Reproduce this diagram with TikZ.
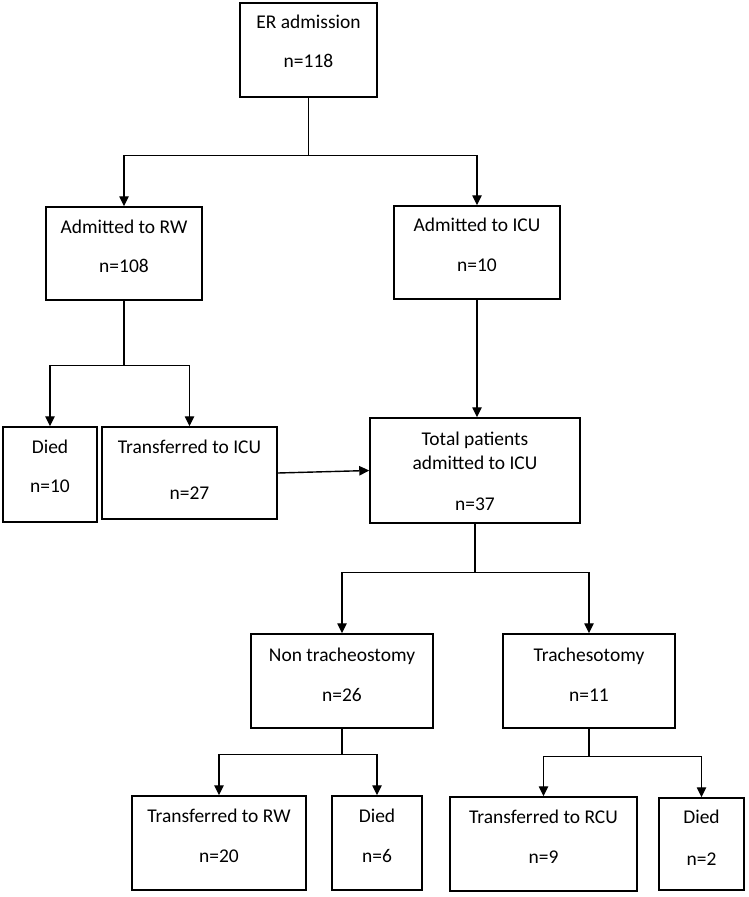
\documentclass[tikz,border=0pt]{standalone}
\usepackage{fontspec}
\setmainfont{Carlito}
\usetikzlibrary{arrows.meta,fit}

\begin{document}
\begin{tikzpicture}[x=0.75pt,y=-0.75pt,
          every node/.style={font=\fontsize{14.6}{17}\selectfont},
          box/.style={rectangle,draw=black,line width=1.1pt,inner sep=0pt},
          txt/.style={anchor=base,inner sep=0pt},
          link/.style={line width=1.05pt},
          arr/.style={link,-{Triangle[length=7.5pt,width=7pt]}}]
        \useasboundingbox (0,0) rectangle (749,897);

        % boxes
        \node[box,fit={(240,3)(377,97)}] (er) {};
        \node[box,fit={(46,207)(202,300)}] (rw) {};
        \node[box,fit={(394,206)(560,299)}] (icu) {};
        \node[box,fit={(3,427)(97,522)}] (died) {};
        \node[box,fit={(102,427)(277,519)}] (toicu) {};
        \node[box,fit={(370,418)(580,523)}] (total) {};
        \node[box,fit={(251,634)(433,728)}] (nontrach) {};
        \node[box,fit={(503,634)(675,728)}] (trach) {};
        \node[box,fit={(132,796)(306,890)}] (torw) {};
        \node[box,fit={(332,796)(422,890)}] (diedA) {};
        \node[box,fit={(450,797)(637,891)}] (torcu) {};
        \node[box,fit={(659,798)(744,890)}] (diedB) {};

        % texts
        \node[txt] (erT) at (308.5,28) {ER admission};
        \node[txt] (erN) at (308.5,67) {n=118};
        \node[txt] (rwT) at (124,233) {Admitted to RW};
        \node[txt] (rwN) at (124,272) {n=108};
        \node[txt] (icuT) at (477,231) {Admitted to ICU};
        \node[txt] (icuN) at (477,271) {n=10};
        \node[txt] (diedT) at (50,453) {Died};
        \node[txt] (diedN) at (50,492) {n=10};
        \node[txt] (toicuT) at (189.5,453) {Transferred to ICU};
        \node[txt] (toicuN) at (189.5,499) {n=27};
        \node[txt] (totalT) at (475,445) {Total patients};
        \node[txt] (totalU) at (475,469) {admitted to ICU};
        \node[txt] (totalN) at (475,510) {n=37};
        \node[txt] (nontrachT) at (342,661) {Non tracheostomy};
        \node[txt] (nontrachN) at (342,701) {n=26};
        \node[txt] (trachT) at (589,661) {Trachesotomy};
        \node[txt] (trachN) at (589,701) {n=11};
        \node[txt] (torwT) at (219,822) {Transferred to RW};
        \node[txt] (torwN) at (219,862) {n=20};
        \node[txt] (diedAT) at (377,822) {Died};
        \node[txt] (diedAN) at (377,862) {n=6};
        \node[txt] (torcuT) at (543.5,823) {Transferred to RCU};
        \node[txt] (torcuN) at (543.5,863) {n=9};
        \node[txt] (diedBT) at (701.5,823) {Died};
        \node[txt] (diedBN) at (701.5,865) {n=2};

        % connectors
        \draw[arr] (er.south) -- ++(0,58) -| (rw.north);
        \draw[arr] (er.south) -- ++(0,58) -| (icu.north);
        \draw[arr] (rw.south) -- ++(0,65) -| (died.north);
        \draw[arr] (rw.south) -- ++(0,65) -| (toicu.north);
        \draw[arr] (icu.south) -- (icu.south |- total.north);
        \draw[arr] (toicu.east) -- (total.west);
        \draw[arr] (total.south) -- ++(0,49) -| (nontrach.north);
        \draw[arr] (total.south) -- ++(0,49) -| (trach.north);
        \draw[arr] (nontrach.south) -- ++(0,26) -| (torw.north);
        \draw[arr] (nontrach.south) -- ++(0,26) -| (diedA.north);
        \draw[arr] (trach.south) -- ++(0,28) -| (torcu.north);
        \draw[arr] (trach.south) -- ++(0,28) -| (diedB.north);
      \end{tikzpicture}
\end{document}
